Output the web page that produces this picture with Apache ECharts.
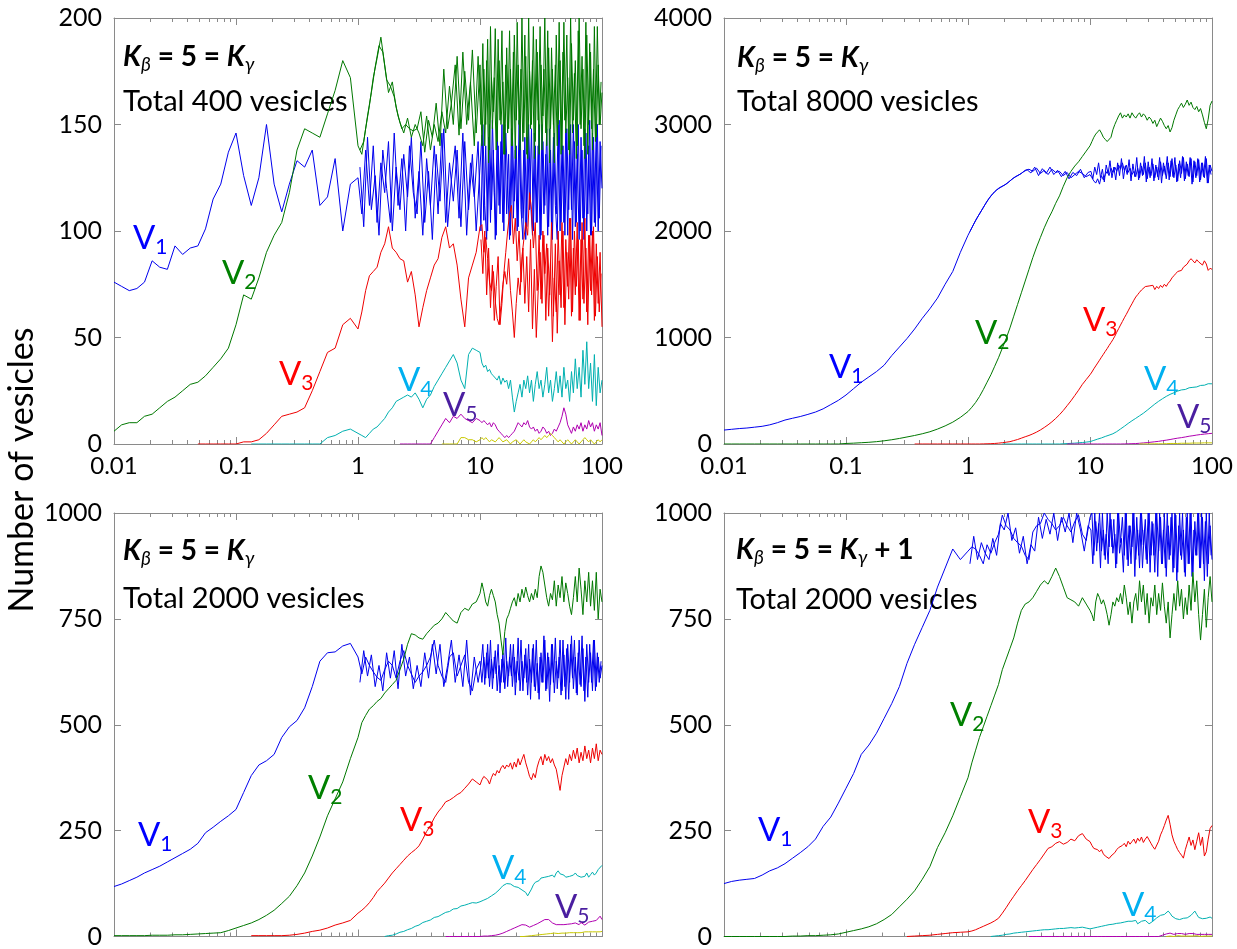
<!DOCTYPE html>
<html>
<head>
<meta charset="utf-8">
<script src="https://cdn.jsdelivr.net/npm/echarts@6/dist/echarts.min.js"></script>
<style>html,body{margin:0;padding:0;background:#fff}#c{width:1237px;height:949px}</style>
</head>
<body>
<div id="c"></div>
<script>
const _ = null;
// sampling times (log-spaced grid shared by all traces)
const T = [
0.01,0.01155,0.01334,0.0154,0.01778,0.02054,0.02371,0.02738,0.03162,0.03652,0.04217,0.0487,0.05623,0.06494,0.07499,0.0866,
0.1,0.1155,0.1334,0.154,0.1778,0.2054,0.2371,0.2738,0.3162,0.3652,0.4217,0.487,0.5623,0.6494,0.7499,0.866,
1,1.075,1.155,1.241,1.334,1.433,1.54,1.655,1.778,1.911,2.054,2.207,2.371,2.548,2.738,2.943,
3.162,3.398,3.652,3.924,4.217,4.532,4.87,5.233,5.623,6.043,6.494,6.978,7.499,8.058,8.66,9.306,
10,10.37,10.75,11.14,11.55,11.97,12.41,12.87,13.34,13.83,14.33,14.86,15.4,15.97,16.55,17.16,
17.78,18.43,19.11,19.81,20.54,21.29,22.07,22.88,23.71,24.58,25.48,26.42,27.38,28.39,29.43,30.51,
31.62,32.78,33.98,35.23,36.52,37.86,39.24,40.68,42.17,43.72,45.32,46.99,48.7,50.49,52.33,54.25,
56.23,58.29,60.43,62.64,64.94,67.32,69.78,72.34,74.99,77.74,80.58,83.54,86.6,89.77,93.06,96.47,
100];
// extra sampling times between grid points (t = 1 .. 100), used for the fast-fluctuating traces
const TM = [
1.037,1.114,1.197,1.287,1.383,1.486,1.597,1.716,1.843,1.981,2.129,2.288,2.458,2.642,2.839,3.051,
3.278,3.523,3.786,4.068,4.372,4.699,5.049,5.425,5.829,6.264,6.732,7.234,7.774,8.354,8.977,9.647,
10.18,10.55,10.94,11.34,11.76,12.19,12.64,13.1,13.58,14.08,14.59,15.13,15.68,16.26,16.85,17.47,
18.11,18.78,19.47,20.18,20.92,21.69,22.48,23.31,24.16,25.05,25.96,26.92,27.9,28.93,29.99,31.09,
32.23,33.41,34.63,35.9,37.22,38.58,40,41.46,42.98,44.56,46.19,47.89,49.64,51.46,53.35,55.31,
57.33,59.43,61.61,63.87,66.21,68.64,71.16,73.77,76.47,79.28,82.18,85.2,88.32,91.56,94.92,98.22];

// ---------- Panel 1: total 400 ----------
const p1V1 = [
76,74,72,73,76,86,83,82,93,89,92,93,101,115,122,137,
146,126,112,125,150,122,109,122,133,130,138,112,116,134,100,122,
125,108,138,112,140,104,132,118,142,100,130,110,136,116,144,106,
128,98,134,112,140,108,146,104,132,114,138,102,142,110,136,100,
130,145,105,140,100,150,110,138,96,148,112,142,104,150,108,136,
98,146,114,140,102,152,106,138,96,144,110,148,100,140,104,150,
98,142,112,148,102,138,96,146,108,150,100,140,104,148,98,142,
110,150,102,136,96,144,106,148,100,140,98,146,104,150,100,142,
120];
const p1V1m = [
130,102,144,110,126,98,138,120,104,146,112,134,100,140,118,108,
142,104,128,96,136,114,148,102,124,140,106,146,98,132,116,142,
100,150,112,96,144,104,152,118,98,140,108,150,100,146,124,96,
148,106,138,100,152,110,96,144,102,150,114,98,146,104,140,96,
150,108,136,98,148,100,144,112,96,152,104,140,98,148,110,150,
96,142,104,150,100,138,96,146,108,152,98,144,102,150,106,140];
const p1V2 = [
6,9,10,10,13,14,17,20,22,25,28,29,32,36,40,45,
56,70,68,78,90,98,104,118,138,148,146,144,155,166,180,172,
140,136,148,159,172,181,191,178,165,170,158,151,146,153,144,150,
146,140,154,138,150,142,156,146,168,150,182,148,175,152,185,146,
178,140,176,150,190,138,172,156,195,142,180,150,170,136,186,148,
176,140,192,152,178,138,200,146,182,134,175,150,196,142,184,136,
178,154,200,140,186,148,176,132,192,150,180,138,198,146,172,136,
188,152,180,140,200,148,176,134,192,150,184,138,196,144,178,150,
165];
const p1V2m = [
138,142,154,165,177,187,184,171,168,163,154,148,150,148,147,148,
156,137,152,144,160,140,176,148,160,178,145,184,150,170,140,182,
150,188,140,180,132,196,148,172,138,190,152,194,136,178,146,194,
140,184,134,198,150,176,142,192,136,200,148,180,134,190,152,196,
138,176,146,194,132,186,150,178,140,198,136,184,152,192,138,200,
146,174,134,194,150,182,140,198,136,188,148,176,142,196,150,170];
const p1V3 = [
_,_,_,_,_,_,_,_,_,_,_,0,0,0,0,0,
0,1,1,2,5,9,13,14,15,17,25,34,43,45,56,59,
54,62,72,79,81,83,90,94,102,92,90,87,86,76,81,70,
55,64,72,78,84,87,97,102,92,94,84,68,55,78,84,90,
102,103,90,97,87,76,72,81,67,59,56,65,75,81,75,87,
72,62,50,66,78,70,88,96,104,98,118,110,92,104,72,98,
68,100,80,94,60,86,48,78,62,100,70,104,64,96,74,106,
60,92,70,104,58,96,68,106,62,98,72,100,58,94,66,90,
55];
const p1V3m = [
_,_,_,_,_,_,_,_,_,_,_,_,_,_,_,_,
_,_,_,_,_,_,_,_,_,_,_,_,_,_,_,_,
96,80,100,70,92,64,84,58,74,88,56,66,80,90,100,108,
112,94,106,86,100,76,92,66,88,62,96,54,82,50,72,90,
66,98,58,92,70,104,60,94,52,86,64,100,56,90,68,106,
62,100,74,96,58,104,66,92,56,98,70,102,60,88,62,80];
const p1V4 = [
_,_,_,_,_,_,_,_,_,_,_,_,_,_,_,_,
_,_,0,0,0,0,0,0,0,0,0,0,3,4,6,7,
5,4,3,5,7,8,10,12,15,17,20,21,22,23,22,24,
21,17,21,23,27,30,33,36,39,42,38,30,26,42,45,44,
43,38,36,37,34,35,33,32,31,30,32,28,31,29,30,26,
30,22,15,20,24,28,22,30,26,32,24,30,20,28,34,26,
30,22,28,36,24,30,20,26,34,24,32,22,36,26,30,20,
34,24,40,26,36,22,44,28,48,26,38,20,42,18,36,24,
30];
const p1V5 = [
_,_,_,_,_,_,_,_,_,_,_,_,_,_,_,_,
_,_,_,_,_,_,_,_,_,_,_,_,_,_,_,_,
_,_,_,_,_,_,_,_,_,_,_,0,0,0,0,0,
0,0,0,0,3,6,9,12,10,13,12,14,12,11,10,12,
11,10,11,10,9,10,8,10,9,7,6,5,4,3,4,3,
4,5,6,8,10,9,8,10,9,11,8,7,8,6,7,5,
6,8,7,5,6,4,5,7,6,8,10,13,17,14,9,7,
5,8,6,9,7,10,6,9,7,11,8,10,6,9,7,10,
4];
const p1V6 = [
_,_,_,_,_,_,_,_,_,_,_,_,_,_,_,_,
_,_,_,_,_,_,_,_,_,_,_,_,_,_,_,_,
_,_,_,_,_,_,_,_,_,_,_,_,_,_,_,_,
_,_,_,_,_,_,0,0,0,0,0,3,3,2,2,1,
2,3,2,3,2,1,2,2,1,2,3,2,1,1,2,1,
0,1,1,2,1,0,1,2,1,1,0,1,2,1,2,3,
2,3,4,3,4,5,4,3,2,1,2,1,0,1,2,1,
0,1,2,1,0,1,2,3,2,1,2,1,0,1,2,1,
2];

// ---------- Panel 2: total 8000 ----------
const p2V1 = [
131,138,145,150,158,166,180,200,225,242,258,278,300,330,370,410,
460,520,580,630,680,740,830,910,990,1080,1180,1270,1370,1500,1620,1800,
1960,2030,2100,2160,2220,2280,2330,2370,2400,2420,2440,2470,2500,2520,2540,2570,
2580,2560,2590,2540,2570,2530,2580,2550,2560,2520,2550,2500,2530,2560,2540,2510,
2530,2500,2470,2450,2490,2440,2520,2480,2530,2560,2520,2590,2550,2600,2560,2620,
2580,2640,2570,2620,2550,2590,2530,2560,2510,2590,2500,2610,2530,2640,2490,2600,
2520,2630,2500,2600,2480,2650,2520,2610,2490,2640,2510,2680,2500,2620,2470,2660,
2540,2690,2490,2630,2510,2680,2460,2650,2520,2670,2480,2640,2500,2680,2450,2620,
2560];
const p2V1m = [
1995,2065,2130,2190,2250,2305,2350,2385,2410,2430,2455,2485,2510,2530,2555,2575,
2545,2600,2520,2585,2540,2600,2530,2570,2510,2560,2490,2550,2520,2580,2500,2550,
2560,2490,2600,2530,2640,2500,2580,2460,2620,2540,2660,2500,2600,2480,2640,2520,
2680,2490,2610,2530,2670,2470,2630,2510,2690,2480,2640,2520,2700,2460,2650,2500,
2680,2470,2620,2510,2690,2450,2640,2530,2700,2480,2660,2510,2690,2460,2630,2500,
2700,2470,2650,2520,2690,2440,2660,2500,2680,2460,2640,2510,2700,2450,2620,2530];
const p2V2 = [
0,0,0,0,0,0,0,0,0,0,0,0,0,0,0,0,
5,8,12,16,22,30,40,52,66,80,96,115,140,170,205,250,
305,345,390,445,510,580,650,730,810,900,990,1090,1200,1310,1420,1530,
1640,1750,1850,1940,2030,2110,2180,2260,2330,2420,2500,2560,2610,2650,2700,2750,
2800,2840,2880,2910,2930,2950,2920,2880,2860,2840,2830,2880,2950,3000,3040,3080,
3110,3060,3090,3070,3100,3060,3110,3080,3060,3090,3110,3070,3100,3080,3040,3070,
3050,3010,3040,2980,3020,3060,3030,2990,2960,2990,2930,2970,3040,3090,3140,3170,
3200,3160,3190,3230,3180,3210,3160,3140,3170,3120,3150,3090,3020,2960,3050,3180,
3220];
const p2V3 = [
_,_,_,_,_,_,_,_,_,_,_,_,_,_,_,_,
_,_,_,_,_,_,_,_,_,0,0,0,0,0,0,0,
0,0,0,0,1,2,3,5,8,12,17,22,32,42,55,68,
80,95,112,132,155,180,208,240,275,315,360,405,455,505,560,605,
650,676,706,733,760,787,815,842,870,896,925,952,980,1012,1048,1083,
1117,1150,1185,1216,1250,1285,1316,1350,1380,1402,1425,1446,1460,1478,1462,1484,
1470,1490,1450,1480,1460,1490,1470,1500,1480,1510,1530,1560,1580,1600,1620,1610,
1630,1660,1650,1690,1720,1740,1720,1700,1730,1710,1700,1680,1720,1690,1630,1650,
1640];
const p2V4 = [
_,_,_,_,_,_,_,_,_,_,_,_,_,_,_,_,
_,_,_,_,_,_,_,_,_,_,_,_,_,_,_,_,
_,_,_,_,_,_,_,_,_,0,0,0,0,0,0,0,
0,0,0,0,0,0,0,0,0,2,4,6,8,11,14,18,
22,27,34,39,46,53,57,64,71,75,83,88,96,104,116,127,
141,151,166,177,193,205,218,230,241,251,265,276,289,305,317,331,
346,358,375,387,401,412,425,436,447,456,466,475,481,490,497,503,
508,514,512,520,528,524,532,538,536,544,550,556,552,560,566,562,
565];
const p2V5 = [
_,_,_,_,_,_,_,_,_,_,_,_,_,_,_,_,
_,_,_,_,_,_,_,_,_,_,_,_,_,_,_,_,
_,_,_,_,_,_,_,_,_,_,_,_,_,_,_,_,
_,_,_,_,_,_,_,_,_,_,0,0,0,0,0,0,
0,0,0,0,0,0,0,0,0,0,0,0,0,0,0,0,
0,0,1,1,2,2,3,4,4,6,7,8,10,12,13,16,
17,18,21,24,25,27,31,33,36,40,42,45,49,51,55,57,
60,64,66,69,73,75,78,82,84,87,89,92,93,95,97,98,
100];
const p2V6 = [
_,_,_,_,_,_,_,_,_,_,_,_,_,_,_,_,
_,_,_,_,_,_,_,_,_,_,_,_,_,_,_,_,
_,_,_,_,_,_,_,_,_,_,_,_,_,_,_,_,
_,_,_,_,_,_,_,_,_,_,_,_,_,_,_,_,
_,_,_,_,_,_,_,_,_,_,_,_,_,_,_,_,
_,_,_,_,_,_,_,_,_,_,0,0,0,0,0,1,
1,0,2,1,2,3,2,4,3,4,5,4,5,6,5,6,
7,6,7,8,7,8,9,8,9,10,9,10,11,10,11,12,
11];

// ---------- Panel 3: total 2000 ----------
const p3V1 = [
118,124,132,140,150,158,166,176,186,196,206,220,245,258,272,285,
300,340,380,405,415,430,470,495,510,540,590,650,670,672,686,692,
660,620,660,640,625,612,605,630,650,640,610,650,675,640,620,600,
615,625,640,660,700,640,615,600,660,670,615,640,665,600,580,630,
650,600,660,610,690,590,655,610,675,580,640,600,670,585,650,615,
690,590,660,600,705,580,650,610,680,570,655,600,690,580,645,560,
670,600,700,585,660,595,690,575,650,610,700,580,665,560,690,600,
710,585,660,570,700,590,680,555,690,600,670,580,700,590,660,610,
640];
const p3V1m = [
600,675,615,665,590,640,580,670,610,675,585,690,615,660,585,640,
590,670,610,690,620,690,590,640,700,600,665,590,700,570,660,600,
640,690,595,670,610,700,585,660,620,690,575,655,600,705,590,660,
615,690,570,650,605,700,580,665,600,690,560,680,590,700,575,660,
600,710,580,670,555,690,600,705,585,660,570,700,590,680,560,690,
610,700,575,670,595,710,580,660,565,690,600,700,580,670,600,650];
const p3V2 = [
2,2,2,2,2,3,3,3,4,4,5,6,7,8,9,14,
20,26,32,40,50,62,78,95,120,150,190,235,285,325,365,420,
470,505,522,537,545,555,562,575,585,595,605,630,655,690,715,712,
705,702,715,725,735,740,750,765,755,745,740,765,775,770,785,790,
810,835,815,790,780,805,820,805,790,760,740,700,665,720,750,760,
775,790,800,780,810,790,820,800,825,805,790,810,795,820,800,850,
875,860,830,800,780,810,795,840,780,830,800,850,790,835,810,780,
760,800,850,790,870,820,760,840,790,860,780,840,770,860,750,820,
790];
const p3V3 = [
_,_,_,_,_,_,_,_,_,_,_,_,_,_,_,_,
_,_,2,2,2,2,2,3,5,8,12,15,20,27,32,38,
55,62,70,80,92,106,116,126,138,150,160,170,180,190,198,205,
214,230,248,262,280,294,305,318,322,328,335,340,350,360,372,365,
358,370,378,382,370,360,375,385,380,392,386,398,404,396,405,400,
410,395,412,400,420,405,418,430,410,395,378,370,385,375,400,415,
425,405,430,415,425,410,420,405,395,370,345,380,400,420,405,430,
415,440,420,445,410,435,415,450,420,440,410,445,420,455,415,440,
430];
const p3V4 = [
_,_,_,_,_,_,_,_,_,_,_,_,_,_,_,_,
_,_,_,_,_,_,_,_,_,_,_,_,_,_,_,_,
_,_,_,_,_,_,_,0,2,3,6,10,12,16,19,24,
27,33,36,39,45,47,52,57,59,65,66,72,74,77,80,79,
82,84,86,88,90,93,96,98,102,106,110,115,120,122,125,126,
124,122,118,120,116,113,110,112,104,96,98,112,122,128,125,132,
138,135,140,136,142,138,145,140,150,155,148,152,145,140,136,142,
138,145,150,144,148,140,136,142,150,140,146,152,145,150,158,162,
168];
const p3V5 = [
_,_,_,_,_,_,_,_,_,_,_,_,_,_,_,_,
_,_,_,_,_,_,_,_,_,_,_,_,_,_,_,_,
_,_,_,_,_,_,_,_,_,_,_,_,_,_,_,_,
_,_,_,_,_,_,_,0,0,0,0,0,0,0,0,0,
0,0,1,1,1,2,2,3,3,4,5,6,8,10,12,14,
16,18,20,22,24,26,28,30,27,24,22,24,26,28,30,32,
35,38,40,42,40,36,32,30,28,27,28,26,28,27,29,27,
30,28,32,30,28,33,30,27,30,34,30,36,32,38,42,48,
40];
const p3V6 = [
_,_,_,_,_,_,_,_,_,_,_,_,_,_,_,_,
_,_,_,_,_,_,_,_,_,_,_,_,_,_,_,_,
_,_,_,_,_,_,_,_,_,_,_,_,_,_,_,_,
_,_,_,_,_,_,_,_,_,_,_,_,_,_,_,_,
_,_,_,_,_,_,_,_,_,_,_,_,_,_,_,_,
_,_,_,_,_,0,0,0,0,1,1,2,2,3,3,4,
4,5,5,6,6,7,7,8,8,7,8,8,9,8,9,9,
8,9,10,9,10,9,10,11,10,11,10,11,12,11,12,11,
12];

// ---------- Panel 4: total 2000, K_gamma = 4 ----------
const p4V1 = [
125,130,133,135,137,145,155,162,172,185,198,212,230,260,282,315,
350,385,430,452,480,515,550,590,645,690,730,770,825,870,915,890,
910,920,915,900,880,925,905,930,950,995,970,960,940,930,922,900,
890,955,970,975,1000,985,975,960,970,990,970,955,980,995,950,935,
990,1000,900,980,930,1000,910,960,890,1000,920,985,905,950,880,1000,
930,990,900,1000,875,970,920,1000,890,960,870,1000,925,985,880,1000,
900,975,860,1000,910,990,880,1000,850,970,900,1000,870,995,860,1000,
890,960,850,1000,880,1000,860,980,900,1000,870,990,840,1000,880,970,
890];
const p4V1m = [
880,945,890,930,905,890,940,900,975,960,1000,935,965,905,945,880,
925,910,990,940,985,950,1000,935,990,955,1000,930,1000,960,910,970,
960,880,1000,910,975,870,1000,900,950,880,1000,920,985,870,1000,905,
940,860,1000,890,970,880,1000,850,990,900,1000,870,960,890,1000,860,
980,900,1000,850,1000,880,960,870,1000,890,990,860,1000,840,970,900,
1000,860,990,880,1000,850,960,900,1000,870,1000,880,980,850,1000,900];
const p4V2 = [
0,0,0,0,0,0,0,0,0,1,1,2,2,3,4,6,
10,14,18,23,30,40,52,70,88,108,135,165,210,245,285,330,
375,410,440,470,495,520,545,570,595,630,655,680,705,740,770,785,
790,800,815,830,840,832,850,870,850,825,800,795,790,780,800,785,
770,760,745,790,810,800,785,795,780,760,735,760,790,780,800,790,
810,785,830,800,760,790,740,790,810,770,840,790,830,760,810,740,
800,780,830,760,810,770,835,780,740,790,705,760,810,770,840,780,
820,750,800,760,830,770,860,790,840,760,700,760,820,730,800,850,
790];
const p4V3 = [
_,_,_,_,_,_,_,_,_,_,_,_,_,_,_,_,
_,_,_,_,_,_,_,_,0,1,2,3,5,7,9,10,
11,13,16,20,24,28,32,37,43,55,68,82,95,108,120,132,
145,158,170,182,195,208,212,220,224,218,222,230,226,238,243,230,
224,215,208,212,205,200,205,195,190,188,184,190,186,198,205,210,
208,215,220,212,225,218,224,230,220,232,225,235,222,230,236,228,
220,212,206,210,225,240,250,262,275,286,265,240,225,215,205,198,
192,185,205,220,235,215,228,205,225,245,215,235,190,200,230,255,
262];
const p4V4 = [
_,_,_,_,_,_,_,_,_,_,_,_,_,_,_,_,
_,_,_,_,_,_,_,_,_,_,_,_,_,_,_,_,
_,_,_,_,_,_,0,1,2,3,5,6,8,9,10,11,
12,13,14,15,16,16,17,18,19,19,20,21,20,21,22,20,
18,19,20,21,22,23,24,25,26,27,28,27,29,30,31,30,
32,33,34,35,36,38,36,40,38,30,32,36,35,38,34,30,
33,36,40,44,48,50,46,52,55,60,55,48,45,42,44,40,
41,43,42,44,46,50,55,60,52,45,44,42,45,43,44,46,
43];
const p4V5 = [
_,_,_,_,_,_,_,_,_,_,_,_,_,_,_,_,
_,_,_,_,_,_,_,_,_,_,_,_,_,_,_,_,
_,_,_,_,_,_,_,_,_,_,_,_,_,_,_,_,
0,0,0,0,0,0,0,0,0,0,0,0,0,0,0,0,
0,0,0,0,0,0,0,0,0,0,0,0,0,0,0,0,
0,0,0,0,0,0,0,0,0,0,0,0,0,0,0,0,
0,0,0,0,0,2,3,5,6,7,8,6,5,6,7,8,
7,6,5,6,7,8,7,6,5,4,5,6,5,4,5,6,
5];
const p4V6 = [
_,_,_,_,_,_,_,_,_,_,_,_,_,_,_,_,
_,_,_,_,_,_,_,_,_,_,_,_,_,_,_,_,
_,_,_,_,_,_,_,_,_,_,_,_,_,_,_,_,
_,_,_,_,_,_,_,_,_,_,_,_,_,_,_,_,
_,_,_,_,_,_,_,_,_,_,_,_,_,_,_,_,
_,_,_,_,_,_,_,_,_,_,_,_,_,_,_,_,
_,_,_,_,_,_,_,_,0,0,1,1,0,1,2,1,
1,0,1,2,1,0,1,1,2,1,0,1,1,2,1,0,
1];

const yMaxes = [200, 4000, 1000, 1000];
const ySteps = [50, 1000, 250, 250];
const totals = ['Total 400 vesicles', 'Total 8000 vesicles', 'Total 2000 vesicles', 'Total 2000 vesicles'];
const panelSeries = [
  [p1V1, p1V2, p1V3, p1V4, p1V5, p1V6],
  [p2V1, p2V2, p2V3, p2V4, p2V5, p2V6],
  [p3V1, p3V2, p3V3, p3V4, p3V5, p3V6],
  [p4V1, p4V2, p4V3, p4V4, p4V5, p4V6]
];
// in-between samples of the fast-fluctuating traces (same variables, sampled at TM)
const panelMidSeries = [
  [p1V1m, p1V2m, p1V3m, null, null, null],
  [p2V1m, null, null, null, null, null],
  [p3V1m, null, null, null, null, null],
  [p4V1m, null, null, null, null, null]
];
const seriesNames = ['V1', 'V2', 'V3', 'V4', 'V5', 'V6'];

// ---------- styling / layout ----------
const FONT = 'Lato, "DejaVu Sans", sans-serif';
const lineColors = ['#0000ee', '#007800', '#ee0000', '#00b0b0', '#b000b0', '#c8c800'];
const labelColors = ['#0000ff', '#008000', '#ff0000', '#00b0f0', '#4a1ea0'];
const FRAME = '#8a8a8a';
const grids = [
  {left: 114, top: 18, width: 488, height: 426},
  {left: 724, top: 18, width: 488, height: 426},
  {left: 114, top: 513, width: 488, height: 425},
  {left: 724, top: 513, width: 488, height: 425}
];

function pairs(ts, ys) {
  const out = [];
  for (let i = 0; i < ts.length; i++) {
    const y = ys[i];
    if (y !== null && y !== undefined) out.push([ts[i], y]);
  }
  return out;
}
function lineSeries(name, gi, color, data) {
  return {
    name: name, type: 'line', xAxisIndex: 2 * gi, yAxisIndex: 2 * gi,
    data: data, showSymbol: false, symbol: 'none', clip: true,
    lineStyle: {width: 1, color: color}, itemStyle: {color: color},
    emphasis: {disabled: true}, animation: false, silent: true
  };
}

const xAxes = [], yAxes = [], series = [];
grids.forEach((g, gi) => {
  ['bottom', 'top'].forEach(pos => {
    xAxes.push({
      gridIndex: gi, type: 'log', logBase: 10, min: 0.01, max: 100, position: pos,
      axisLine: {show: true, onZero: false, lineStyle: {color: FRAME, width: 1}},
      axisTick: {show: true, inside: true, length: 7, lineStyle: {color: FRAME}},
      minorTick: {show: true, splitNumber: 9, length: 4, lineStyle: {color: FRAME}},
      axisLabel: {show: pos === 'bottom' && gi < 2, fontSize: 24, color: '#000', fontFamily: FONT, margin: 10,
        showMinLabel: true, showMaxLabel: true, formatter: v => String(v)},
      splitLine: {show: false}, minorSplitLine: {show: false}
    });
  });
  ['left', 'right'].forEach(pos => {
    yAxes.push({
      gridIndex: gi, type: 'value', min: 0, max: yMaxes[gi], interval: ySteps[gi], position: pos,
      axisLine: {show: true, onZero: false, lineStyle: {color: FRAME, width: 1}},
      axisTick: {show: true, inside: true, length: 7, lineStyle: {color: FRAME}},
      axisLabel: {show: pos === 'left', fontSize: 25, color: '#000', fontFamily: FONT, margin: 12,
        showMinLabel: true, showMaxLabel: true, formatter: v => String(v)},
      splitLine: {show: false}
    });
  });
  panelSeries[gi].forEach((ys, si) => {
    series.push(lineSeries(seriesNames[si], gi, lineColors[si], pairs(T, ys)));
    const mid = panelMidSeries[gi][si];
    if (mid) series.push(lineSeries(seriesNames[si], gi, lineColors[si], pairs(TM, mid)));
  });
});

// ---------- text annotations ----------
const graphics = [];
graphics.push({
  type: 'text', x: 22, y: 470, rotation: Math.PI / 2,
  style: {text: 'Number of vesicles', fontSize: 34, fontFamily: FONT, fill: '#000', align: 'center', verticalAlign: 'middle'}
});
const headRich = {
  k: {fontSize: 28, fontWeight: 'bold', fontStyle: 'italic', fontFamily: FONT, fill: '#000', lineHeight: 35},
  b: {fontSize: 28, fontWeight: 'bold', fontFamily: FONT, fill: '#000', lineHeight: 35},
  s: {fontSize: 19, fontStyle: 'italic', fontFamily: FONT, fill: '#000', lineHeight: 19, verticalAlign: 'bottom'}
};
const headPos = [[123, 57, 102], [737, 58, 102], [123, 551, 599], [736, 550, 600]];
headPos.forEach((p, gi) => {
  const txt = '{k|K}{s|\u03b2}{b| = 5 = }{k|K}{s|\u03b3}' + (gi === 3 ? '{b| + 1}' : '');
  graphics.push({type: 'text', x: p[0], y: p[1], style: {text: txt, rich: headRich, align: 'left', verticalAlign: 'middle'}});
  graphics.push({type: 'text', x: p[0], y: p[2], style: {text: totals[gi], fontSize: 29, fontFamily: FONT, fill: '#000', align: 'left', verticalAlign: 'middle'}});
});
// [panel, series index, left, top of glyph]
const vLabelPos = [
  [0, 0, 133, 226], [0, 1, 222, 261], [0, 2, 279, 362], [0, 3, 398, 368], [0, 4, 443, 393],
  [1, 0, 829, 355], [1, 1, 975, 321], [1, 2, 1083, 308], [1, 3, 1144, 367], [1, 4, 1177, 405],
  [2, 0, 138, 823], [2, 1, 308, 776], [2, 2, 400, 808], [2, 3, 492, 856], [2, 4, 555, 895],
  [3, 0, 758, 818], [3, 1, 950, 703], [3, 2, 1028, 810], [3, 3, 1122, 893]
];
vLabelPos.forEach(p => {
  const c = labelColors[p[1]];
  graphics.push({
    type: 'text', x: p[2], y: p[3] - 8,
    style: {
      text: '{v|V}{s|' + (p[1] + 1) + '}', align: 'left', verticalAlign: 'top',
      rich: {
        v: {fontSize: 33, fontFamily: FONT, fill: c, lineHeight: 40},
        s: {fontSize: 21, fontFamily: FONT, fill: c, lineHeight: 22, verticalAlign: 'bottom'}
      }
    }
  });
});

const chart = echarts.init(document.getElementById('c'), null, {renderer: 'canvas', width: 1237, height: 949});
chart.setOption({
  backgroundColor: '#fff',
  animation: false,
  grid: grids,
  xAxis: xAxes,
  yAxis: yAxes,
  series: series,
  graphic: graphics
});
</script>
</body>
</html>
